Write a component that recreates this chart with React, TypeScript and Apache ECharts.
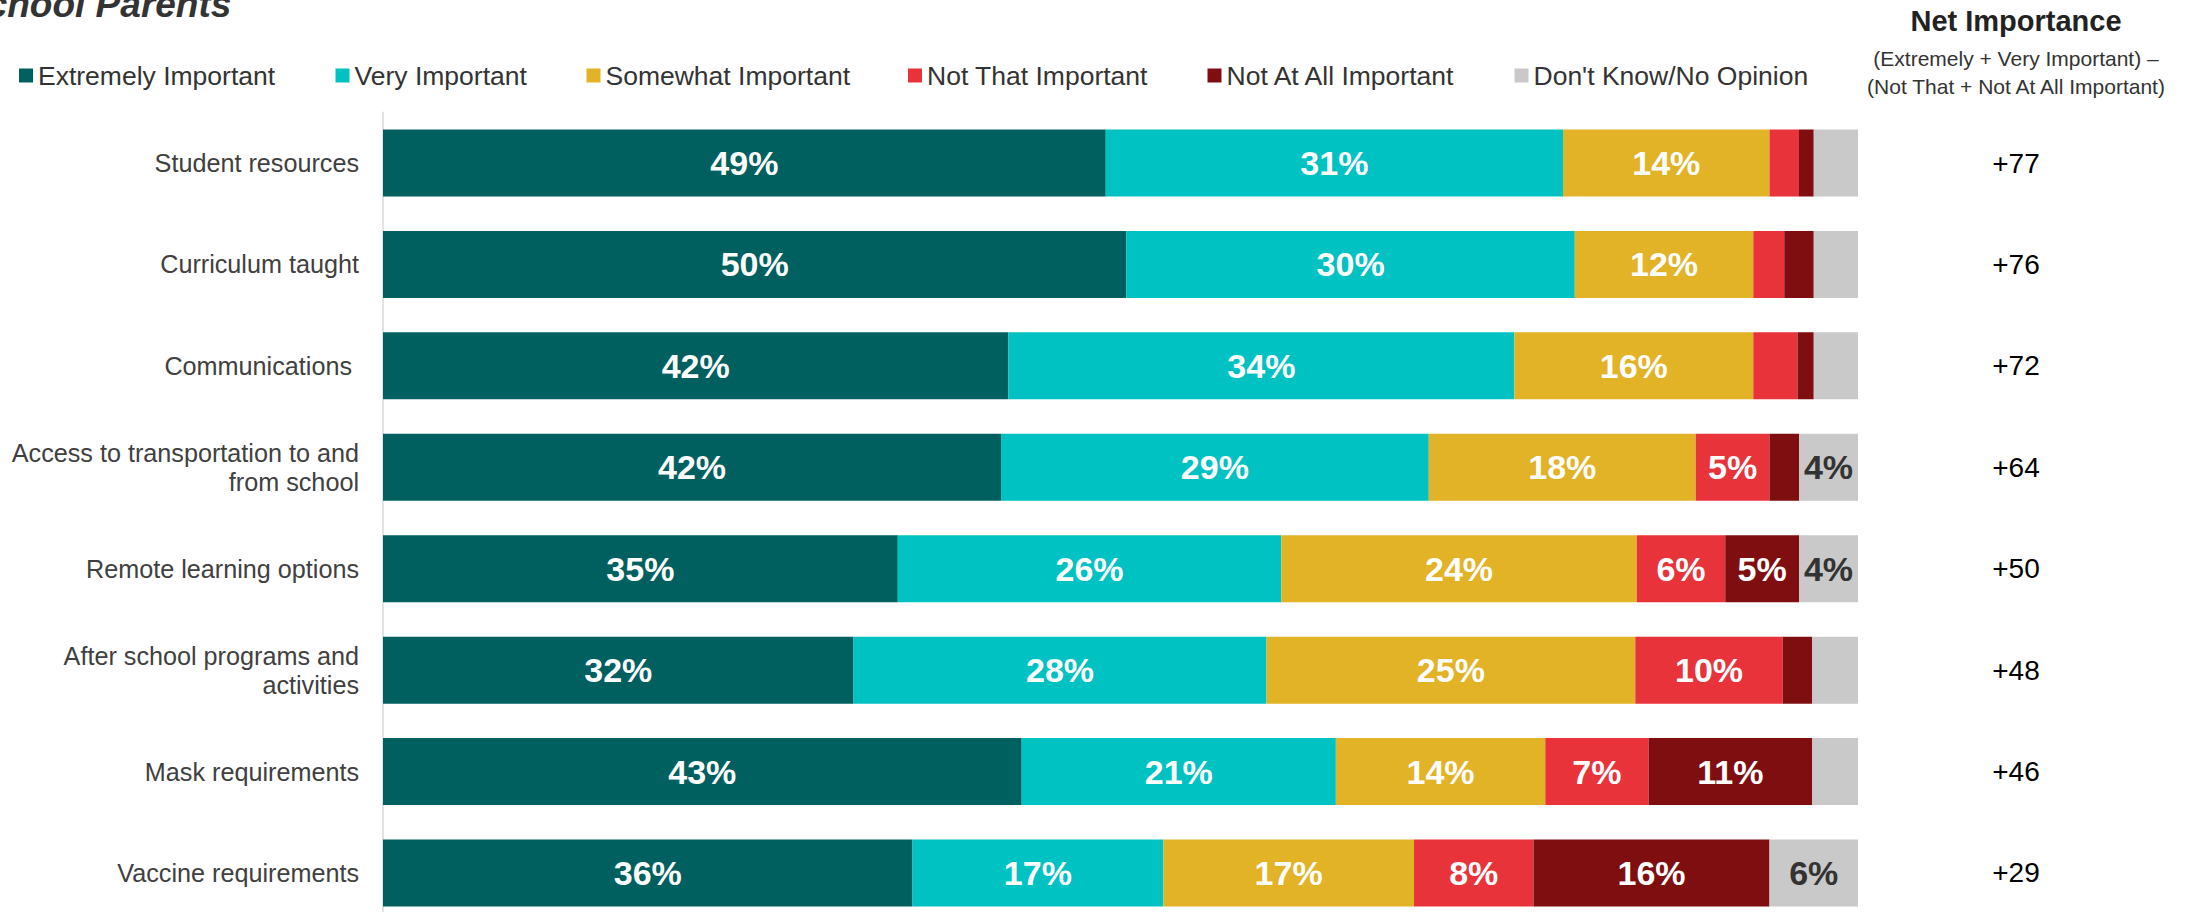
import React, { useEffect, useRef } from "react";
import * as echarts from "echarts";

const categories = [
  "Student resources",
  "Curriculum taught",
  "Communications ",
  "Access to transportation to and\nfrom school",
  "Remote learning options",
  "After school programs and\nactivities",
  "Mask requirements",
  "Vaccine requirements",
];

const seriesNames = [
  "Extremely Important",
  "Very Important",
  "Somewhat Important",
  "Not That Important",
  "Not At All Important",
  "Don't Know/No Opinion",
];

const extremely = [49.0, 50.4, 42.4, 41.9, 34.9, 31.9, 43.3, 35.9];
const very = [31.0, 30.4, 34.3, 29.0, 26.0, 28.0, 21.3, 17.0];
const somewhat = [14.0, 12.1, 16.2, 18.1, 24.1, 25.0, 14.2, 17.0];
const notThat = [2.0, 2.1, 3.0, 5.0, 6.0, 10.0, 7.0, 8.1];
const notAtAll = [1.0, 2.0, 1.1, 2.0, 5.0, 2.0, 11.1, 16.0];
const dontKnow = [3.0, 3.0, 3.0, 4.0, 4.0, 3.1, 3.1, 6.0];

const netImportance = [77, 76, 72, 64, 50, 48, 46, 29];

const colors = ["#00605f", "#00c2c2", "#e2b227", "#e9333b", "#7f0e11", "#c9c9c9"];
const labelColors = ["#ffffff", "#ffffff", "#ffffff", "#ffffff", "#ffffff", "#333333"];
const legendLefts = [19, 335.5, 586.5, 908, 1207.5, 1514.5];

const FONT = "'Liberation Sans', Arial, Helvetica, sans-serif";

export default function App() {
  const ref = useRef<HTMLDivElement>(null);

  useEffect(() => {
    if (!ref.current) return;
    const chart = echarts.init(ref.current, undefined, { renderer: "svg" });
    const values = [extremely, very, somewhat, notThat, notAtAll, dontKnow];

    const option: any = {
      animation: false,
      backgroundColor: "#ffffff",
      textStyle: { fontFamily: FONT },
      grid: {
        left: 383,
        right: 340,
        top: 112.3,
        height: 811.4,
        containLabel: false,
        outerBoundsMode: "none",
      },
      legend: seriesNames.map((name, i) => ({
        show: true,
        data: [name],
        left: legendLefts[i],
        top: 62,
        padding: 0,
        icon: "rect",
        itemWidth: 14,
        itemHeight: 14,
        itemGap: 5,
        selectedMode: false,
        textStyle: { fontSize: 26.5, color: "#333333", fontFamily: FONT, lineHeight: 26 },
      })),
      xAxis: { type: "value", min: 0, max: 100, show: false },
      yAxis: [
        {
          type: "category",
          data: categories,
          inverse: true,
          axisLine: { show: true, lineStyle: { color: "#d9d9d9", width: 1.5 } },
          axisTick: { show: false },
          axisLabel: {
            margin: 24,
            fontSize: 25.2,
            lineHeight: 29,
            color: "#404040",
            fontFamily: FONT,
            align: "right",
          },
        },
        {
          type: "category",
          data: categories,
          inverse: true,
          position: "right",
          axisLine: { show: false },
          axisTick: { show: false },
          axisLabel: {
            margin: 158,
            fontSize: 28,
            color: "#000000",
            fontFamily: FONT,
            align: "center",
            formatter: (_v: string, idx: number) => "+" + netImportance[idx],
          },
        },
      ],
      series: seriesNames.map((name, i) => ({
        name,
        type: "bar",
        stack: "total",
        barWidth: 67,
        yAxisIndex: 0,
        itemStyle: { color: colors[i] },
        label: {
          show: true,
          position: "inside",
          fontSize: 34,
          fontWeight: "bold",
          fontFamily: FONT,
          color: labelColors[i],
          formatter: (p: any) => (p.value >= 3.5 ? Math.round(p.value) + "%" : ""),
        },
        data: values[i],
      })),
      graphic: [
        {
          type: "text",
          left: -38,
          top: -14,
          style: {
            text: "School Parents",
            font: "italic bold 37px " + FONT,
            fill: "#333333",
          },
        },
        {
          type: "text",
          x: 2016,
          y: 21,
          style: {
            text: "Net Importance",
            font: "bold 29px " + FONT,
            fill: "#222222",
            align: "center",
            verticalAlign: "middle",
          },
        },
        {
          type: "text",
          x: 2016,
          y: 58,
          style: {
            text: "(Extremely + Very Important) \u2013",
            font: "21px " + FONT,
            fill: "#333333",
            align: "center",
            verticalAlign: "middle",
          },
        },
        {
          type: "text",
          x: 2016,
          y: 86,
          style: {
            text: "(Not That + Not At All Important)",
            font: "21px " + FONT,
            fill: "#333333",
            align: "center",
            verticalAlign: "middle",
          },
        },
      ],
    };

    chart.setOption(option);
    return () => chart.dispose();
  }, []);

  return (
    <div
      ref={ref}
      style={{ position: "fixed", left: 0, top: 0, width: 2198, height: 912, overflow: "hidden" }}
    />
  );
}
